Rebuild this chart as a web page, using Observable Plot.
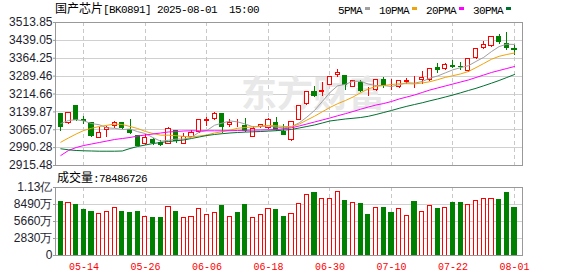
<!DOCTYPE html>
<html><head><meta charset="utf-8">
<script src="https://cdn.jsdelivr.net/npm/d3@7"></script>
<script src="https://cdn.jsdelivr.net/npm/@observablehq/plot@0.6"></script>
<style>
body{margin:0;background:#fff;}
#chart{position:relative;width:578px;height:276px;overflow:hidden;font-family:"Liberation Sans",Arial,sans-serif;}
#chart svg{position:absolute;left:0;}
.t{position:absolute;white-space:pre;line-height:12px;color:#000;}
.cjk{font-family:"Noto Sans CJK SC",sans-serif;font-size:12px;}
.mono{font-family:"Liberation Mono",monospace;font-size:11px;letter-spacing:-0.6px;}
.sw{display:inline-block;width:5px;height:3px;margin:0 9px 2px 3px;vertical-align:middle;}
</style></head><body><div id="chart"></div>
<script>
const dates = ["05-09","05-12","05-13","05-14","05-15","05-16","05-19","05-20","05-21","05-22","05-23","05-26","05-27","05-28","05-29","05-30","06-03","06-04","06-05","06-06","06-09","06-10","06-11","06-12","06-13","06-16","06-17","06-18","06-19","06-20","06-23","06-24","06-25","06-26","06-27","06-30","07-01","07-02","07-03","07-04","07-07","07-08","07-09","07-10","07-11","07-14","07-15","07-16","07-17","07-18","07-21","07-22","07-23","07-24","07-25","07-28","07-29","07-30","07-31","08-01"];
const open  = [3128.9,3095.4,3162.4,3105.9,3094.2,3031.4,3064.0,3078.7,3091.3,3062.0,3038.1,3003.4,3023.0,3011.7,3006.3,3057.8,3006.3,3033.9,3054.8,3101.7,3108.0,3130.1,3082.9,3087.0,3078.7,3034.7,3075.8,3072.4,3093.3,3056.5,3022.2,3106.7,3172.0,3222.2,3223.0,3253.2,3295.0,3287.9,3243.1,3262.0,3226.4,3231.4,3272.4,3248.1,3243.1,3265.7,3267.0,3274.1,3271.2,3324.3,3317.2,3332.7,3328.5,3310.1,3364.5,3409.2,3414.7,3452.3,3424.7,3402.1];
const high  = [3131.0,3138.5,3164.5,3120.5,3097.5,3074.5,3076.6,3099.6,3093.3,3105.9,3041.0,3044.0,3027.2,3018.0,3072.4,3059.8,3049.4,3061.9,3105.9,3116.3,3135.2,3133.1,3108.0,3108.0,3114.2,3076.6,3087.1,3112.2,3115.0,3087.1,3099.6,3164.5,3225.1,3246.1,3262.8,3287.9,3315.9,3290.0,3271.2,3271.2,3241.9,3277.4,3283.7,3273.3,3271.2,3279.5,3289.2,3308.8,3321.4,3341.0,3340.2,3354.8,3347.7,3364.0,3403.0,3434.4,3455.3,3462.4,3470.7,3417.6];
const low   = [3059.8,3087.1,3099.6,3087.1,3032.7,3030.6,3030.6,3070.3,3068.2,3045.2,2992.9,2999.2,2997.1,2992.9,3001.3,3009.6,3003.4,3030.6,3048.1,3080.0,3103.8,3049.4,3074.5,3074.5,3053.6,3030.6,3070.3,3068.2,3057.8,3041.0,3016.0,3103.8,3168.6,3200.0,3204.2,3250.2,3283.7,3229.3,3239.8,3220.9,3204.2,3227.2,3236.4,3229.3,3237.7,3254.4,3238.9,3253.2,3267.0,3299.2,3313.0,3320.1,3313.0,3306.7,3361.1,3400.9,3411.3,3420.5,3396.7,3375.8];
const close = [3075.8,3134.3,3106.7,3099.6,3038.1,3049.4,3073.2,3094.2,3073.2,3049.4,2996.3,3031.4,3010.5,2999.2,3069.5,3018.0,3032.7,3050.6,3103.8,3105.0,3128.9,3077.4,3092.5,3087.0,3059.8,3069.1,3082.9,3103.8,3064.0,3043.1,3096.7,3162.4,3222.2,3206.3,3229.3,3285.0,3302.5,3253.2,3268.2,3229.3,3226.4,3274.5,3250.2,3248.1,3267.0,3269.1,3267.0,3282.5,3317.2,3313.0,3336.8,3329.7,3325.6,3362.0,3400.9,3420.5,3452.3,3431.4,3408.0,3399.6];
const ma5  = [3091,3104,3107,3102,3091,3086,3073,3071,3066,3068,3057,3049,3032,3017,3021,3026,3026,3034,3055,3062,3084,3093,3102,3098,3089,3077,3078,3081,3076,3073,3078,3094,3118,3146,3183,3221,3249,3255,3268,3268,3256,3250,3250,3246,3253,3262,3260,3267,3281,3290,3303,3316,3325,3333,3351,3368,3392,3413,3423,3422];
const ma10 = [3013.0,3030.6,3047.3,3062.0,3071.2,3078.7,3083.7,3089.1,3087.0,3078.7,3070.3,3057.8,3049.4,3042.3,3042.3,3040.2,3036.8,3035.6,3038.9,3043.1,3051.5,3056.9,3063.6,3071.2,3074.5,3077.4,3080.4,3082.9,3081.6,3078.7,3077.9,3088.7,3105.5,3121.8,3140.2,3158.2,3174.1,3187.1,3202.1,3220.1,3236.0,3246.9,3250.2,3254.4,3257.4,3257.8,3256.9,3260.7,3266.1,3274.5,3284.1,3291.3,3298.8,3308.8,3325.1,3342.3,3359.9,3372.4,3380.0,3386.2];
const ma20 = [2957.3,2978.3,2990.8,2999.2,3005.5,3011.7,3018.0,3024.3,3028.5,3032.7,3038.9,3043.1,3047.3,3051.5,3055.7,3057.8,3059.9,3060.7,3060.7,3060.7,3060.7,3060.7,3061.1,3062.0,3062.8,3063.6,3064.0,3064.9,3066.1,3069.1,3073.2,3080.8,3089.1,3097.5,3105.9,3114.3,3123.5,3132.2,3141.4,3151.1,3160.3,3168.6,3174.9,3183.3,3193.8,3202.1,3210.5,3221.0,3231.4,3239.8,3248.2,3256.5,3264.9,3273.3,3283.7,3294.2,3304.6,3313.0,3321.4,3329.7];
const ma30 = [2985.4,2981.2,2978.3,2977.0,2976.2,2975.3,2975.3,2975.3,2976.2,2986.6,2995.0,3001.3,3007.6,3011.7,3015.9,3018.9,3022.2,3028.5,3034.8,3041.0,3045.2,3048.6,3051.5,3053.6,3055.3,3056.5,3057.8,3059.4,3061.1,3063.6,3066.1,3072.4,3078.7,3085.0,3093.3,3101.7,3105.9,3110.1,3113.0,3116.3,3121.4,3128.9,3137.3,3145.6,3154.8,3163.2,3170.7,3177.9,3186.2,3193.8,3202.1,3210.5,3219.7,3229.3,3238.5,3249.0,3259.9,3271.2,3283.7,3296.3];
// volume in 万
const volume = [8824,8769,8325,7492,7160,6937,7270,7936,7160,6993,7160,6327,6160,6160,8103,7160,6271,6438,7770,6771,7104,8158,6438,6993,8325,6271,6771,7659,7492,6327,6937,8602,10100,10323,9324,9435,10600,8991,8769,8491,6660,7936,7825,6993,7770,6604,8824,7270,8269,7659,7936,8658,8658,8436,9102,9324,9324,9213,10323,7849];
const priceTicks = [2915.48,2990.28,3065.07,3139.87,3214.66,3289.46,3364.25,3439.05,3513.85];
const volTicks = [0,2830,5660,8490,11320];
const volTickLabels = ["0","2830万","5660万","8490万","1.13亿"];
const dateTicks = ["05-14","05-26","06-06","06-18","06-30","07-10","07-22","08-01"];
const maNames = ["5PMA","10PMA","20PMA","30PMA"];
const maColors = ["#a0a0a0","#f0a30a","#ff00ff","#007030"];
const title = "国产芯片";
const code = "[BK0891] 2025-08-01  15:00";
const lastVolume = "78486726";

const RED = "#ff0000", GREEN = "#008000";
const rows = dates.map((date, i) => ({
  i, date, open: open[i], high: high[i], low: low[i], close: close[i],
  ma5: ma5[i], ma10: ma10[i], ma20: ma20[i], ma30: ma30[i], vol: volume[i],
  up: close[i] >= open[i],
  volUp: close[i] > open[i] || (close[i] === open[i] && i > 0 && close[i] >= close[i - 1])
}));
const tickIdx = dateTicks.map(d => dates.indexOf(d));
const xDomain = [-0.69, 60.04];
const hw = 0.27;
const W = 578;
const baseStyle = {background: "transparent", fontFamily: "Liberation Sans, Arial, sans-serif", fontSize: "12px", overflow: "visible"};

const pricePlot = Plot.plot({
  width: W, height: 172, marginTop: 22, marginBottom: 7, marginLeft: 55, marginRight: 56,
  x: {domain: xDomain, axis: null},
  y: {domain: [priceTicks[0], priceTicks[priceTicks.length - 1]], axis: null},
  color: {type: "identity"},
  style: baseStyle,
  marks: [
    Plot.ruleY(priceTicks.slice(1, -1), {stroke: "#d0d0d0", shapeRendering: "crispEdges"}),
    Plot.ruleX(tickIdx, {stroke: "#c8c8c8", strokeDasharray: "4,3", shapeRendering: "crispEdges"}),
    Plot.text(["东方财富"], {frameAnchor: "middle", dx: 24, dy: 1, fill: "#e8e8e8", fontSize: 36, fontWeight: "bold", fontFamily: "Noto Sans CJK SC"}),
    Plot.ruleX(rows, {x: "i", y1: "low", y2: "high", stroke: d => d.up ? RED : GREEN, shapeRendering: "crispEdges"}),
    Plot.rect(rows, {x1: d => d.i - hw, x2: d => d.i + hw, y1: "open", y2: "close", fill: d => d.up ? "#ffffff" : GREEN, stroke: d => d.up ? RED : GREEN, shapeRendering: "crispEdges"}),
    ...["ma5", "ma10", "ma20", "ma30"].map((k, j) => Plot.line(rows, {x: "i", y: k, stroke: maColors[j], strokeWidth: 1})),
    Plot.frame({stroke: "#999", shapeRendering: "crispEdges"}),
    Plot.axisY({ticks: priceTicks, tickFormat: d => d.toFixed(2), tickSize: 2, tickPadding: 1, stroke: "#999", fill: "#1e1e2e", label: null, fontSize: 12})
  ]
});
pricePlot.style.top = "0px";

const volPlot = Plot.plot({
  width: W, height: 93, marginTop: 4, marginBottom: 21, marginLeft: 55, marginRight: 56,
  x: {domain: xDomain, axis: null},
  y: {domain: [0, volTicks[volTicks.length - 1]], axis: null},
  color: {type: "identity"},
  style: baseStyle,
  marks: [
    Plot.ruleY(volTicks.slice(1, -1), {stroke: "#d0d0d0", shapeRendering: "crispEdges"}),
    Plot.ruleX(tickIdx, {stroke: "#c8c8c8", strokeDasharray: "4,3", shapeRendering: "crispEdges"}),
    Plot.rectY(rows, {x1: d => d.i - hw, x2: d => d.i + hw, y: "vol", fill: d => d.volUp ? "#ffffff" : GREEN, stroke: d => d.volUp ? RED : GREEN, shapeRendering: "crispEdges"}),
    Plot.frame({stroke: "#999", shapeRendering: "crispEdges"}),
    Plot.axisY({ticks: volTicks, tickFormat: d => volTickLabels[volTicks.indexOf(d)], tickSize: 2, tickPadding: 1, stroke: "#999", fill: "#1e1e2e", label: null, fontSize: 12}),
    Plot.axisX({ticks: tickIdx, tickFormat: i => dates[i], tickSize: 0, tickPadding: 7, fill: RED, label: null, fontFamily: "Liberation Mono, monospace", fontSize: 10})
  ]
});
volPlot.style.top = "183px";

const chart = document.getElementById("chart");
chart.appendChild(pricePlot);
chart.appendChild(volPlot);

const t = document.createElement("div");
t.className = "t";
t.style.left = "55px"; t.style.top = "2px";
t.innerHTML = `<span class="cjk">${title}</span><span class="mono">${code}</span>`;
chart.appendChild(t);

const lg = document.createElement("div");
lg.className = "t";
lg.style.left = "338px"; lg.style.top = "3px";
lg.innerHTML = maNames.map((n, j) => `<span class="mono">${n}</span><span class="sw" style="background:${maColors[j]}"></span>`).join("");
chart.appendChild(lg);

const v = document.createElement("div");
v.className = "t";
v.style.left = "57px"; v.style.top = "171px";
v.innerHTML = `<span class="cjk">成交量</span><span class="mono">:${lastVolume}</span>`;
chart.appendChild(v);
</script></body></html>
